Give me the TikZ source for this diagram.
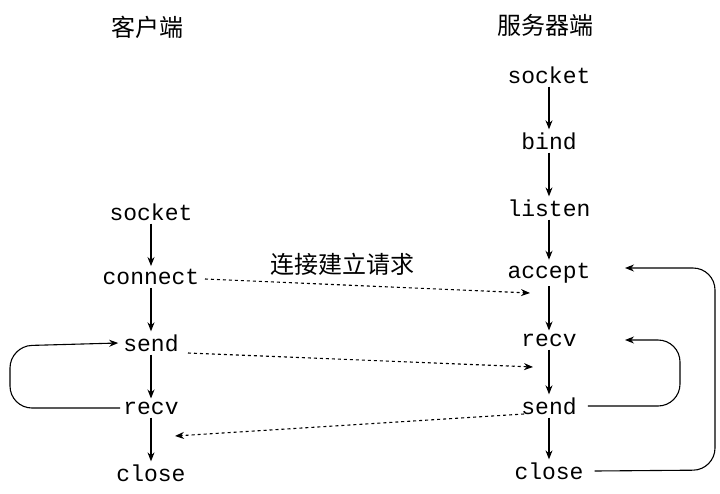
\documentclass[tikz,border=0pt]{standalone}
\usepackage{fontspec}
\setmonofont{Liberation Mono}
\newfontfamily\cjk{Noto Sans CJK SC}
\usetikzlibrary{arrows.meta}
\begin{document}
\begin{tikzpicture}[x=1pt,y=-1pt,
  fn/.style={font=\ttfamily\fontsize{23}{24}\selectfont, inner sep=3pt},
  hd/.style={font=\cjk\fontsize{24}{26}\selectfont},
  arr/.style={-{Stealth[length=9pt,width=7pt]}, line width=1.1pt},
  dsh/.style={arr, dashed},
  loop/.style={arr, rounded corners=22pt}]
\useasboundingbox (0,0) rectangle (720,493);
\node[hd] (ch) at (147,27) {客户端};
\node[hd] (sh) at (545,25) {服务器端};
\node[fn] (c1) at (151,212) {socket};
\node[fn] (c2) at (151,277) {connect};
\node[fn] (c3) at (151,343) {send};
\node[fn] (c4) at (151,408) {recv};
\node[fn] (c5) at (151,473) {close};
\node[fn] (s1) at (549,75) {socket};
\node[fn] (s2) at (549,141) {bind};
\node[fn] (s3) at (549,208) {listen};
\node[fn] (s4) at (549,273) {accept};
\node[fn] (s5) at (549,340) {recv};
\node[fn] (s6) at (549,406) {send};
\node[fn] (s7) at (549,471) {close};
\foreach \a/\b in {c1/c2,c2/c3,c3/c4,c4/c5,s1/s2,s2/s3,s3/s4,s4/s5,s5/s6,s6/s7}
  \draw[arr] (\a.south) -- (\a.south |- \b.north);
\node[hd] (lbl) at (342,264) {连接建立请求};
\coordinate (d1a) at (205,279); \coordinate (d1b) at (530,293);
\coordinate (d2a) at (188,353); \coordinate (d2b) at (533,367);
\coordinate (d3a) at (524,414); \coordinate (d3b) at (175,436);
\draw[dsh] (d1a) -- (d1b);
\draw[dsh] (d2a) -- (d2b);
\draw[dsh] (d3a) -- (d3b);
\coordinate (l1a) at (10,408); \coordinate (l1b) at (10,346);
\draw[loop] (c4.west) -- (l1a) -- (l1b) -- ([xshift=-2pt]c3.west);
\coordinate (l2a) at (680,406); \coordinate (l2b) at (680,340);
\draw[loop] (s6.east) ++(8,0) coordinate (s6e) -- (l2a) -- (l2b) -- (625,340) coordinate (l2c);
\coordinate (l3a) at (715,470); \coordinate (l3b) at (715,268);
\draw[loop] (s7.east) ++(8,0) -- (l3a) -- (l3b) -- (625,268) coordinate (l3c);
\end{tikzpicture}
\end{document}
